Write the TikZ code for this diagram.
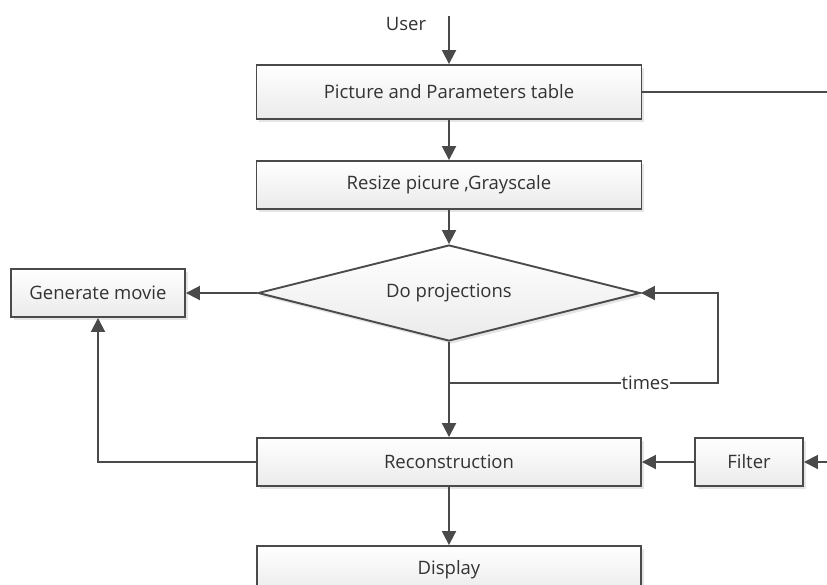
\documentclass[tikz,border=0pt]{standalone}
\usepackage{fontspec}
\setmainfont{Open Sans}
\usetikzlibrary{shapes.geometric,arrows.meta,shadows}
\definecolor{ln}{HTML}{4A4A4A}
\definecolor{tx}{HTML}{333333}
\begin{document}
\begin{tikzpicture}[x=1pt,y=-1pt,
  every node/.style={font=\fontsize{18.5}{20}\selectfont, text=tx},
  box/.style={draw=ln, line width=1.9pt, rectangle, inner sep=0pt,
    top color=white, bottom color=gray!16,
    drop shadow={shadow xshift=2.5pt, shadow yshift=-3pt, opacity=0.2, fill=gray}},
  dia/.style={draw=ln, line width=1.9pt, diamond, inner sep=0pt,
    top color=white, bottom color=gray!16,
    drop shadow={shadow xshift=2.5pt, shadow yshift=-3pt, opacity=0.2, fill=gray}},
  conn/.style={draw=ln, line width=1.9pt},
  arr/.style={conn, -{Triangle[length=14pt,width=14pt]}}]
\clip (0,0) rectangle (827,584);
\fill[white] (0,0) rectangle (827,584);

\node[box, minimum width=385pt, minimum height=54pt] (b1) at (449,92) {Picture and Parameters table};
\node[box, minimum width=385pt, minimum height=48pt] (b2) at (449,185) {Resize picure ,Grayscale};
\node[dia, minimum width=382pt, minimum height=96pt, aspect=3.98] (d) at (449,293) {Do projections};
\node[box, minimum width=174pt, minimum height=48pt] (gm) at (98,293) {Generate movie};
\node[box, minimum width=384pt, minimum height=48pt] (rec) at (449,462) {Reconstruction};
\node[box, minimum width=108pt, minimum height=48pt] (fil) at (749,462) {Filter};
\node[box, minimum width=384pt, minimum height=48pt] (disp) at (449,570) {Display};

\node (user) at (406,24) {User};
\coordinate (u) at (449,16);
\coordinate (r1) at (830,92);
\coordinate (j) at (449,383);
\coordinate (lp1) at (718,383);
\coordinate (lp2) at (718,293);
\coordinate (r2) at (830,462);

\draw[arr] (u) -- (b1.north);
\draw[conn] (b1.east) -- (r1);
\draw[arr] (b1.south) -- (b2.north);
\draw[arr] (b2.south) -- (d.north);
\draw[arr] (d.west) -- (gm.east);
\draw[conn] (d.south) -- (j);
\draw[arr] (j) -- (rec.north);
\draw[arr] (j) -- node[pos=0.73, fill=white, inner sep=1pt] {times} (lp1) -- (lp2) -- (d.east);
\draw[arr] (rec.west) -| (gm.south);
\draw[arr] (fil.west) -- (rec.east);
\draw[arr] (r2) -- (fil.east);
\draw[arr] (rec.south) -- (disp.north);
\end{tikzpicture}
\end{document}
